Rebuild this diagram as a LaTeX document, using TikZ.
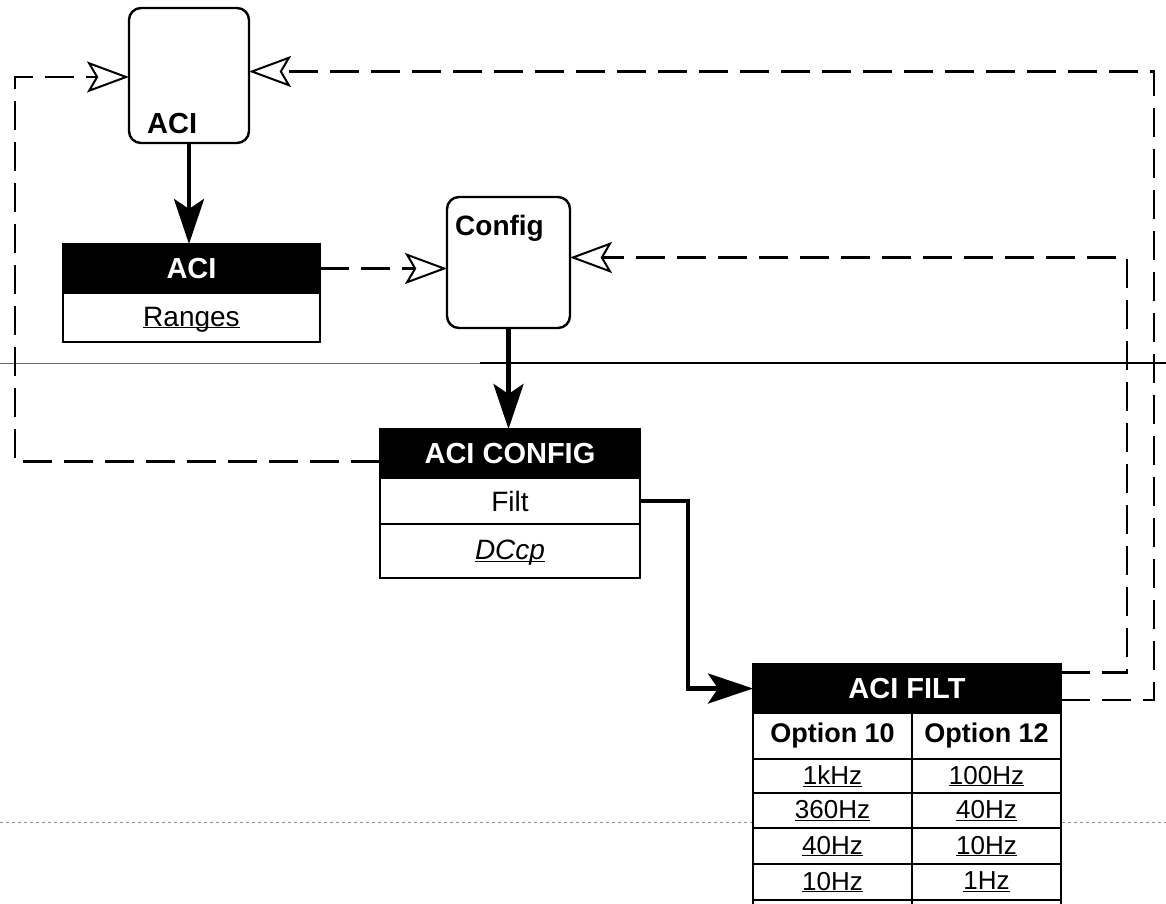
\documentclass[tikz,border=0pt]{standalone}
\usepackage{fontspec}
\setmainfont{Liberation Sans}
\usetikzlibrary{arrows.meta,calc}
\newcommand\ulx[1]{\underline{\raisebox{0pt}[\height][0pt]{#1}}}
\begin{document}
\begin{tikzpicture}[x=1pt,y=-1pt,
  rbox/.style={draw, line width=2.4pt, rounded corners=12pt, inner sep=0pt, outer sep=0pt},
  hdr/.style={draw, fill=black, text=white, line width=1.6pt, inner sep=0pt, outer sep=0pt, font=\fontsize{29pt}{31pt}\selectfont\bfseries},
  cell/.style={draw, fill=white, line width=1.6pt, inner sep=0pt, outer sep=0pt, font=\fontsize{27pt}{29pt}\selectfont},
  optcell/.style={cell, font=\fontsize{27pt}{29pt}\selectfont\bfseries},
  valcell/.style={cell, font=\fontsize{26pt}{28pt}\selectfont},
  boxlabel/.style={inner sep=0pt, anchor=base west, font=\fontsize{29pt}{31pt}\selectfont\bfseries},
  flow/.style={line width=4.5pt, -{Stealth[length=45pt,width=30pt,inset=10pt]}},
  feedback/.style={line width=2.4pt, dash pattern=on 29pt off 12pt, -{Stealth[open,length=42pt,width=31pt,inset=9pt,fill=white,line width=2pt]}},
  scanline/.style={line width=1pt, black!60},
  ]
\useasboundingbox (0,0) rectangle (1166,903);
\clip (0,0) rectangle (1166,903);

% scan artefacts
\draw[scanline] (0,363) -- (480,363);
\draw[line width=1.8pt] (480,363) -- (1166,363);
\draw[black!45, line width=0.8pt, dash pattern=on 3pt off 3pt] (0,822) -- (1166,822);

% rounded boxes
\node[rbox, minimum width=120pt, minimum height=135pt] (acibox) at (189,75.5) {};
\node[boxlabel] (acilbl) at (147,133) {ACI};
\node[rbox, minimum width=123pt, minimum height=131pt] (cfgbox) at (508.5,262.5) {};
\node[boxlabel, font=\fontsize{28pt}{30pt}\selectfont\bfseries] (cfglbl) at (455,235) {Config};

% ACI table
\node[hdr, minimum width=257pt, minimum height=49pt] (acih) at (191.5,268.5) {ACI};
\node[cell, minimum width=257pt, minimum height=49pt, font=\fontsize{28pt}{30pt}\selectfont] (acir) at (191.5,317.5) {\ulx{Ranges}};

% ACI CONFIG table
\node[hdr, minimum width=260pt, minimum height=49pt] (cfgh) at (510,453.5) {ACI CONFIG};
\node[cell, minimum width=260pt, minimum height=46pt, font=\fontsize{28pt}{30pt}\selectfont] (cfgf) at (510,501) {Filt};
\node[cell, minimum width=260pt, minimum height=54pt, font=\fontsize{28pt}{30pt}\selectfont\itshape] (cfgd) at (510,551) {\ulx{DCcp}};

% ACI FILT table
\node[hdr, minimum width=308pt, minimum height=49pt] (filth) at (907,688.5) {ACI FILT};
\node[optcell, minimum width=159pt, minimum height=46pt] (o10) at (832.5,736) {Option 10};
\node[optcell, minimum width=149pt, minimum height=46pt] (o12) at (986.5,736) {Option 12};
\node[valcell, minimum width=159pt, minimum height=34pt] (a1) at (832.5,776) {\ulx{1kHz}};
\node[valcell, minimum width=149pt, minimum height=34pt] (b1) at (986.5,776) {\ulx{100Hz}};
\node[valcell, minimum width=159pt, minimum height=35pt] (a2) at (832.5,810.5) {\ulx{360Hz}};
\node[valcell, minimum width=149pt, minimum height=35pt] (b2) at (986.5,810.5) {\ulx{40Hz}};
\node[valcell, minimum width=159pt, minimum height=36pt] (a3) at (832.5,846) {\ulx{40Hz}};
\node[valcell, minimum width=149pt, minimum height=36pt] (b3) at (986.5,846) {\ulx{10Hz}};
\node[valcell, minimum width=159pt, minimum height=36pt] (a4) at (832.5,882) {\ulx{10Hz}};
\node[valcell, minimum width=149pt, minimum height=36pt] (b4) at (986.5,882) {\ulx{1Hz}};
\node[valcell, minimum width=159pt, minimum height=36pt] (a5) at (832.5,918) {};
\node[valcell, minimum width=149pt, minimum height=36pt] (b5) at (986.5,918) {};

% solid flow connectors
\draw[flow] (acibox.south) -- (acibox.south |- acih.north);
\draw[flow] (cfgbox.south) -- (cfgbox.south |- cfgh.north);
\coordinate (bend) at (688,600);
\draw[flow] (cfgf.east) -| (bend) |- (filth.west);

% dashed feedback connectors
\coordinate (lc) at (15,300);
\draw[feedback] ([yshift=-8pt]cfgh.west) -| (lc) |- ([yshift=-1.5pt]acibox.west);
\draw[feedback] (acih.east) -- (acih.east -| cfgbox.west);
\coordinate (rc1) at (1127,400);
\draw[feedback] ([yshift=16pt]filth.east) -| (rc1) |- ([yshift=5pt]cfgbox.east);
\coordinate (rc2) at (1154,400);
\draw[feedback] ([yshift=-11.5pt]filth.east) -| (rc2) |- ([yshift=4pt]acibox.east);
\end{tikzpicture}
\end{document}
